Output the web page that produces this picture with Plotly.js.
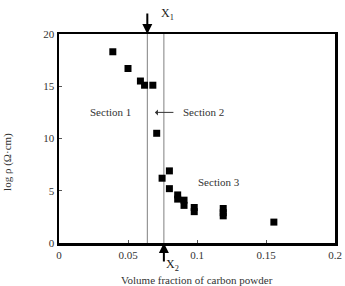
<!DOCTYPE html>
<html>
<head>
<meta charset="utf-8">
<script src="https://cdn.plot.ly/plotly-3.0.1.min.js"></script>
<style>html,body{margin:0;padding:0;background:#fff;}#chart{width:345px;height:286px;}</style>
</head>
<body>
<div id="chart"></div>
<script>
const volumeFraction = [0.039, 0.050, 0.059, 0.062, 0.068, 0.0708, 0.0747, 0.080, 0.080, 0.086, 0.086, 0.0906, 0.0906, 0.098, 0.098, 0.119, 0.119, 0.119, 0.1557];
const logResistivity = [18.3, 16.7, 15.5, 15.1, 15.1, 10.5, 6.2, 6.9, 5.2, 4.6, 4.2, 4.1, 3.6, 3.4, 3.0, 3.3, 2.9, 2.6, 2.0];
const x1 = 0.064;
const x2 = 0.076;
const xTicks = [0, 0.05, 0.1, 0.15, 0.2];
const xTickLabels = ['0', '0.05', '0.1', '0.15', '0.2'];
const yTicks = [0, 5, 10, 15, 20];

const serif = 'Liberation Serif, Times New Roman, serif';

const traces = [
  {x: [x1, x1], y: [0, 20], mode: 'lines', line: {color: '#808080', width: 1}, hoverinfo: 'skip', showlegend: false},
  {x: [x2, x2], y: [0, 20], mode: 'lines', line: {color: '#808080', width: 1}, hoverinfo: 'skip', showlegend: false},
  {x: volumeFraction, y: logResistivity, mode: 'markers', type: 'scatter',
   marker: {symbol: 'square', size: 7, color: '#000'}, showlegend: false}
];

const layout = {
  width: 345, height: 286,
  margin: {l: 59, r: 10, t: 34, b: 43},
  paper_bgcolor: '#fff', plot_bgcolor: '#fff',
  font: {family: serif, size: 11, color: '#333'},
  xaxis: {range: [0, 0.2], tickvals: xTicks, ticktext: xTickLabels, ticks: 'inside', ticklen: 3, tickcolor: '#555',
          showgrid: false, zeroline: false, showline: true, linecolor: '#000', linewidth: 2.5, mirror: true,
          tickfont: {family: serif, size: 11, color: '#333'}},
  yaxis: {range: [0, 20], tickvals: yTicks, ticks: 'inside', ticklen: 3, tickcolor: '#555',
          showgrid: false, zeroline: false, showline: true, linecolor: '#000', linewidth: 2.5, mirror: true,
          tickfont: {family: serif, size: 11, color: '#333'}},
  annotations: [
    {x: x1, y: 20, xref: 'x', yref: 'y', text: '', showarrow: true, ax: 0, ay: -22, arrowhead: 2, arrowsize: 1, arrowwidth: 2, arrowcolor: '#000'},
    {x: 0.0785, y: 1.096, xref: 'x', yref: 'paper', xanchor: 'center', yanchor: 'middle', text: 'X<sub>1</sub>', showarrow: false, font: {family: serif, size: 12, color: '#222'}},
    {x: x2, y: 0, xref: 'x', yref: 'y', text: '', showarrow: true, ax: 0, ay: 20, arrowhead: 2, arrowsize: 1, arrowwidth: 2, arrowcolor: '#000'},
    {x: 0.082, y: -0.105, xref: 'x', yref: 'paper', xanchor: 'center', yanchor: 'middle', text: 'X<sub>2</sub>', showarrow: false, font: {family: serif, size: 12, color: '#222'}},
    {x: 0.037, y: 12.5, xref: 'x', yref: 'y', text: 'Section 1', showarrow: false, font: {family: serif, size: 11, color: '#333'}},
    {x: 0.0695, y: 12.5, xref: 'x', yref: 'y', text: '', showarrow: true, ax: 20, ay: 0, arrowhead: 1, arrowsize: 1, arrowwidth: 1, arrowcolor: '#333'},
    {x: 0.1045, y: 12.5, xref: 'x', yref: 'y', text: 'Section 2', showarrow: false, font: {family: serif, size: 11, color: '#333'}},
    {x: 0.116, y: 5.8, xref: 'x', yref: 'y', text: 'Section 3', showarrow: false, font: {family: serif, size: 11, color: '#333'}},
    {x: 0.5, y: -0.175, xref: 'paper', yref: 'paper', yanchor: 'middle', text: 'Volume fraction of carbon powder', showarrow: false, font: {family: serif, size: 11, color: '#333'}},
    {x: -0.187, y: 0.39, xref: 'paper', yref: 'paper', xanchor: 'center', yanchor: 'middle', textangle: -90, text: 'log ρ (Ω·cm)', showarrow: false, font: {family: serif, size: 11, color: '#333'}}
  ]
};

Plotly.newPlot('chart', traces, layout, {displayModeBar: false, staticPlot: true});
</script>
</body>
</html>
